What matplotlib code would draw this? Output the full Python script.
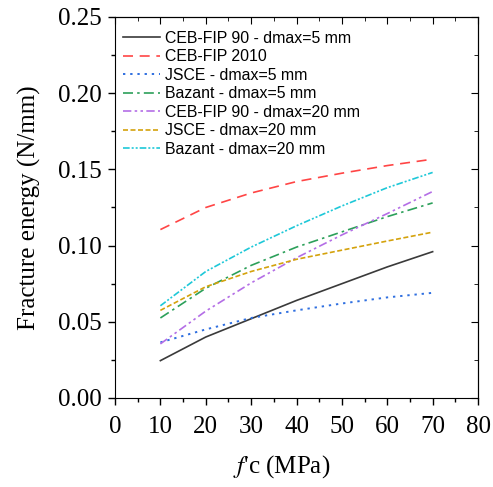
import matplotlib
matplotlib.use('Agg')
import matplotlib.pyplot as plt
from matplotlib.ticker import MultipleLocator, FormatStrFormatter

plt.rcParams['mathtext.fontset'] = 'stix'

# compressive strength (MPa)
fc = [10, 20, 30, 40, 50, 60, 70]

# fracture energy (N/mm)
ceb90_d5 = [0.0245, 0.040, 0.052, 0.064, 0.075, 0.086, 0.096]
ceb2010 = [0.1105, 0.125, 0.1345, 0.142, 0.1475, 0.1525, 0.1567]
jsce_d5 = [0.0365, 0.045, 0.0525, 0.0575, 0.062, 0.066, 0.069]
bazant_d5 = [0.0525, 0.072, 0.087, 0.099, 0.109, 0.119, 0.128]
ceb90_d20 = [0.0355, 0.057, 0.0755, 0.092, 0.107, 0.121, 0.1355]
jsce_d20 = [0.0575, 0.073, 0.083, 0.091, 0.097, 0.103, 0.1088]
bazant_d20 = [0.0605, 0.083, 0.099, 0.113, 0.126, 0.138, 0.148]

labels = ['CEB-FIP 90 - dmax=5 mm', 'CEB-FIP 2010', 'JSCE - dmax=5 mm',
          'Bazant - dmax=5 mm', 'CEB-FIP 90 - dmax=20 mm', 'JSCE - dmax=20 mm',
          'Bazant - dmax=20 mm']

fig = plt.figure(figsize=(4.93, 4.87), dpi=100)
ax = fig.add_axes([0.2333, 0.1828, 0.7363, 0.7823])

ax.plot(fc, ceb90_d5, color='#3a3a3a', lw=1.2, ls='-', label=labels[0])
ax.plot(fc, ceb2010, color='#ff4545', lw=1.2, ls=(0, (6, 4)), label=labels[1])
ax.plot(fc, jsce_d5, color='#2f6fe0', lw=1.4, ls=(0, (1.2, 2.5)), label=labels[2])
ax.plot(fc, bazant_d5, color='#2ca05a', lw=1.2, ls=(0, (6, 2.5, 1.5, 2.5)), label=labels[3])
ax.plot(fc, ceb90_d20, color='#b46ee6', lw=1.2, ls=(0, (5, 2, 1.5, 2, 1.5, 2)), label=labels[4])
ax.plot(fc, jsce_d20, color='#d4a20c', lw=1.2, ls=(0, (3, 1.5)), label=labels[5])
ax.plot(fc, bazant_d20, color='#1ec8d8', lw=1.2, ls=(0, (4, 1.2, 1.2, 1.2, 1.2, 1.2)), label=labels[6])

ax.set_xlim(0, 80)
ax.set_ylim(0, 0.25)
ax.xaxis.set_major_locator(MultipleLocator(10))
ax.xaxis.set_minor_locator(MultipleLocator(5))
ax.yaxis.set_major_locator(MultipleLocator(0.05))
ax.yaxis.set_minor_locator(MultipleLocator(0.025))
ax.yaxis.set_major_formatter(FormatStrFormatter('%.2f'))

ax.tick_params(which='both', direction='out', top=False, right=False, width=1)
ax.tick_params(which='major', length=5)
ax.tick_params(which='minor', length=3)
ax.tick_params(axis='y', which='major', pad=4.5)
ax.tick_params(axis='x', which='major', pad=8)
for lab in ax.get_xticklabels() + ax.get_yticklabels():
    lab.set_fontfamily('Liberation Serif')
    lab.set_fontsize(18)

# inward ticks on top and right
sec_x = ax.secondary_xaxis('top')
sec_x.xaxis.set_major_locator(MultipleLocator(10))
sec_x.xaxis.set_minor_locator(MultipleLocator(5))
sec_x.tick_params(which='both', direction='in', labeltop=False)
sec_x.tick_params(which='major', length=5)
sec_x.tick_params(which='minor', length=3)
sec_y = ax.secondary_yaxis('right')
sec_y.yaxis.set_major_locator(MultipleLocator(0.05))
sec_y.yaxis.set_minor_locator(MultipleLocator(0.025))
sec_y.tick_params(which='both', direction='in', labelright=False)
sec_y.tick_params(which='major', length=5)
sec_y.tick_params(which='minor', length=3)

ax.set_xlabel("$f$'c (MPa)", fontfamily='Liberation Serif', fontsize=18)
ax.xaxis.set_label_coords(0.46, -0.145)
ax.set_ylabel('Fracture energy (N/mm)', fontfamily='Liberation Serif', fontsize=18, labelpad=12.5)

ax.legend(loc='upper left', frameon=False, prop={'family': 'Liberation Sans', 'size': 11.4},
          handlelength=2.35, labelspacing=0.22, borderaxespad=0.1, borderpad=0.4,
          handletextpad=0.3, bbox_to_anchor=(0, 0.985))

fig.savefig('out.png', dpi=100)
